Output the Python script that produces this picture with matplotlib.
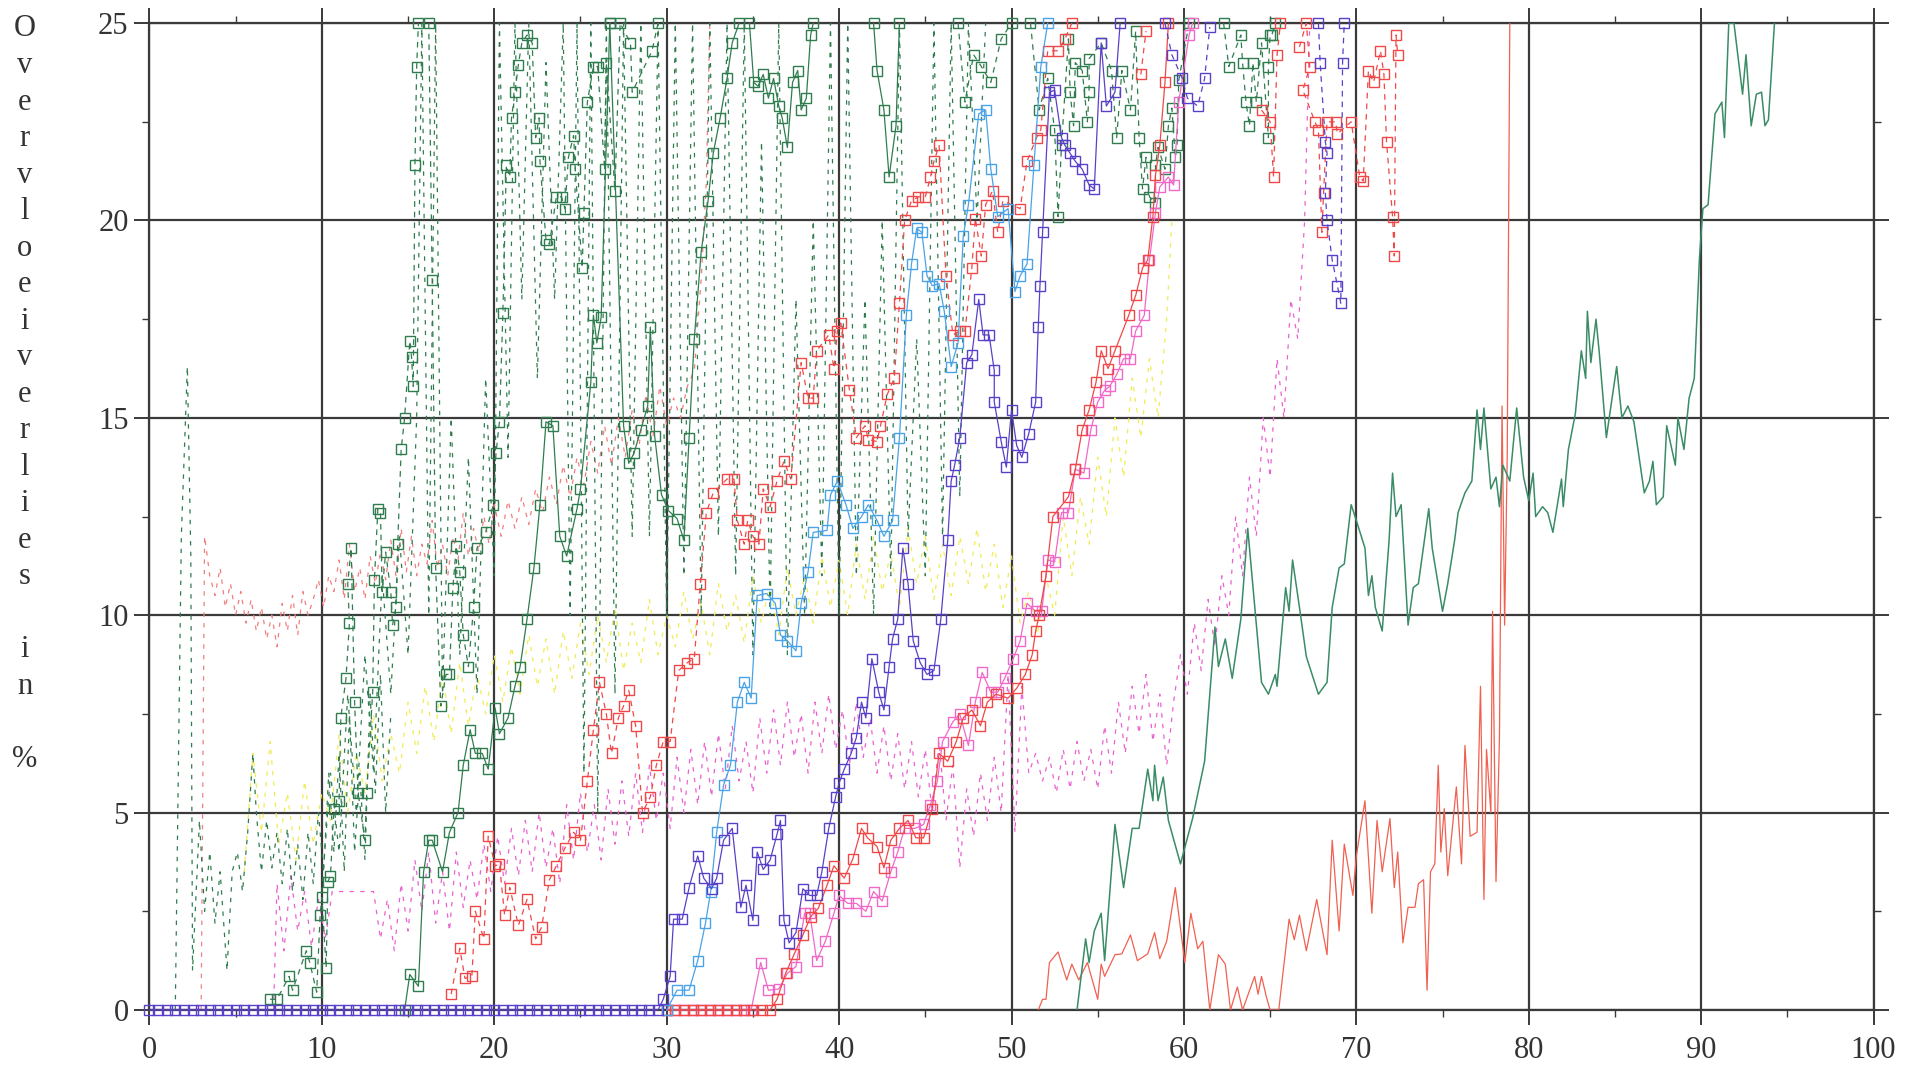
import matplotlib
matplotlib.use('Agg')
import matplotlib.pyplot as plt
import numpy as np
from matplotlib.ticker import MultipleLocator

nan = np.nan

# ---------------------------------------------------------------------------
# Data
# ---------------------------------------------------------------------------

x_ticks = [0, 10, 20, 30, 40, 50, 60, 70, 80, 90, 100]
y_ticks = [0, 5, 10, 15, 20, 25]
ylabel_text = 'Overvloeiverlies in %'

# purple squares, solid
purple_sq = [(0.0, 0), (0.5, 0), (1.0, 0), (1.5, 0), (2.0, 0), (2.5, 0), (3.0, 0), (3.5, 0),
             (4.0, 0), (4.5, 0), (5.0, 0), (5.5, 0), (6.0, 0), (6.5, 0), (7.0, 0), (7.5, 0),
             (8.0, 0), (8.5, 0), (9.0, 0), (9.5, 0), (10.0, 0), (10.5, 0), (11.0, 0), (11.5, 0),
             (12.0, 0), (12.5, 0), (13.0, 0), (13.5, 0), (14.0, 0), (14.5, 0), (15.0, 0), (15.5, 0),
             (16.0, 0), (16.5, 0), (17.0, 0), (17.5, 0), (18.0, 0), (18.5, 0), (19.0, 0), (19.5, 0),
             (20.0, 0), (20.5, 0), (21.0, 0), (21.5, 0), (22.0, 0), (22.5, 0), (23.0, 0), (23.5, 0),
             (24.0, 0), (24.5, 0), (25.0, 0), (25.5, 0), (26.0, 0), (26.5, 0), (27.0, 0), (27.5, 0),
             (28.0, 0), (28.5, 0), (29.0, 0), (29.5, 0),
             (29.8, 0.27), (30.2, 0.85), (30.4, 2.3), (30.9, 2.3), (31.3, 3.1), (31.8, 3.9),
             (32.15, 3.34), (32.6, 3.07), (32.9, 3.34), (33.3, 4.3), (33.8, 4.6), (34.3, 2.6),
             (34.6, 3.16), (35.0, 2.27), (35.25, 4.0), (35.6, 3.56), (36.0, 3.8), (36.4, 4.45),
             (36.6, 4.8), (36.8, 2.27), (37.1, 1.7), (37.5, 1.96), (37.9, 3.07), (38.3, 2.9),
             (38.7, 2.9), (39.0, 3.5), (39.4, 4.6), (39.8, 5.4), (40.0, 5.75), (40.3, 6.1),
             (40.7, 6.5), (41.0, 6.9), (41.3, 7.8), (41.55, 7.4), (41.9, 8.9), (42.3, 8.05),
             (42.6, 7.6), (42.9, 8.7), (43.1, 9.4), (43.4, 9.9), (43.7, 11.7), (44.0, 10.8),
             (44.3, 9.35), (44.7, 8.8), (45.1, 8.5), (45.5, 8.6), (45.9, 9.9), (46.3, 11.9),
             (46.5, 13.4), (46.7, 13.8), (47.0, 14.5), (47.4, 16.4), (47.7, 16.6), (48.1, 18.0),
             (48.35, 17.1), (48.7, 17.1), (49.0, 16.2), (49.0, 15.4), (49.4, 14.4), (49.7, 13.75),
             (50.0, 15.2), (50.3, 14.3), (50.6, 14.0), (51.0, 14.6), (51.4, 15.4), (51.55, 17.3),
             (51.65, 18.35), (51.8, 19.7), (52.2, 23.25), (52.5, 23.3), (52.9, 22.1), (53.1, 21.9),
             (53.4, 21.7), (53.7, 21.5), (54.1, 21.3), (54.5, 20.9), (54.8, 20.8), (55.2, 24.5),
             (55.5, 22.9), (56.0, 23.25), (56.3, 25)]

# purple squares, dashed
purple_sq_dash = [(58.9, 25), (59.3, 24.2), (59.9, 23.6), (60.2, 23.1), (60.8, 22.9), (61.2, 23.6),
                  (61.5, 24.9), (61.6, nan), (67.8, 25), (67.9, 24.0), (68.2, 22.0), (68.3, 21.7),
                  (68.2, 20.7), (68.3, 20.0), (68.6, 19.0), (68.9, 18.35), (69.1, 17.9), (69.2, 24.0),
                  (69.3, 25)]

# light blue squares, solid
blue_sq = [(30.0, 0), (30.6, 0.5), (31.3, 0.5), (31.8, 1.25), (32.25, 2.2), (32.55, 3.0), (32.9, 4.5),
           (33.3, 5.7), (33.7, 6.2), (34.1, 7.8), (34.5, 8.3), (34.9, 7.9), (35.25, 10.5), (35.8, 10.55),
           (36.3, 10.3), (36.6, 9.5), (37.0, 9.35), (37.5, 9.1), (37.8, 10.3), (38.2, 11.1), (38.5, 12.1),
           (39.3, 12.15), (39.5, 13.05), (39.9, 13.4), (40.4, 12.8), (40.8, 12.2), (41.3, 12.5),
           (41.7, 12.8), (42.2, 12.4), (42.6, 12.0), (43.1, 12.4), (43.5, 14.5), (43.9, 17.6),
           (44.2, 18.9), (44.5, 19.8), (44.8, 19.7), (45.1, 18.6), (45.4, 18.35), (45.8, 18.4),
           (46.1, 17.7), (46.5, 16.3), (46.9, 16.9), (47.2, 19.6), (47.5, 20.4), (48.1, 22.7),
           (48.5, 22.8), (48.8, 21.3), (49.2, 20.1), (49.8, 20.3), (50.2, 18.2), (50.5, 18.6),
           (50.9, 18.9), (51.3, 21.4), (51.7, 23.9), (52.1, 25)]

# red squares, dashed
red_sq_dash = [(17.5, 0.4), (18.0, 1.56), (18.3, 0.8), (18.7, 0.85), (18.9, 2.5), (19.4, 1.8),
               (19.65, 4.4), (20.05, 3.65), (20.3, 3.7), (20.6, 2.4), (20.9, 3.1), (21.4, 2.14),
               (21.9, 2.8), (22.4, 1.8), (22.75, 2.1), (23.2, 3.3), (23.6, 3.65), (24.1, 4.1),
               (24.6, 4.5), (25.0, 4.3), (25.4, 5.8), (25.75, 7.1), (26.1, 8.3), (26.5, 7.5),
               (26.8, 6.5), (27.2, 7.4), (27.5, 7.7), (27.8, 8.1), (28.2, 7.2), (28.6, 5.0),
               (29.05, 5.4), (29.4, 6.2), (29.8, 6.8), (30.2, 6.8), (30.7, 8.6), (31.2, 8.8),
               (31.6, 8.9), (31.95, 10.8), (32.3, 12.6), (32.7, 13.1), (33.5, 13.45), (33.9, 13.45),
               (34.1, 12.4), (34.5, 11.8), (34.7, 12.4), (35.0, 12.0), (35.35, 11.8), (35.6, 13.2),
               (36.0, 12.75), (36.4, 13.4), (36.8, 13.9), (37.2, 13.45), (37.8, 16.4), (38.2, 15.5),
               (38.5, 15.5), (38.7, 16.7), (39.4, 17.1), (39.7, 16.25), (39.9, 17.2), (40.1, 17.4),
               (40.6, 15.7), (41.0, 14.5), (41.5, 14.8), (41.7, 14.45), (42.2, 14.4), (42.4, 14.8),
               (42.8, 15.6), (43.2, 16.0), (43.5, 17.9), (43.8, 20.0), (44.2, 20.5), (44.6, 20.6),
               (45.0, 20.6), (45.3, 21.1), (45.5, 21.5), (45.8, 21.9), (46.2, 18.6), (46.6, 17.1),
               (47.0, 17.2), (47.3, 17.2), (47.7, 18.8), (47.9, 20.05), (48.25, 19.1), (48.5, 20.4),
               (48.9, 20.75), (49.2, 19.7), (49.5, 20.5), (50.5, 20.3), (50.9, 21.5), (51.45, 22.1),
               (51.7, 22.3), (52.1, 24.3), (52.7, 24.3), (53.1, 24.6), (53.5, 25)]

red_sq_dash2 = [(57.5, 23.7), (57.8, 24.8), (58.0, nan), (64.5, 22.8), (65.0, 22.5), (65.2, 21.1),
                (65.4, 24.2), (65.6, 25), (65.7, nan), (66.7, 24.4), (67.1, 25), (67.3, 23.9),
                (66.9, 23.3), (67.6, 22.5), (67.8, 22.3), (68.0, 19.7), (68.1, 20.7), (68.3, 22.5),
                (68.8, 22.5), (68.9, 22.2), (69.7, 22.5), (70.2, 21.1), (70.4, 21.0), (70.7, 23.8),
                (71.0, 23.5), (71.4, 24.3), (71.6, 23.7), (71.75, 22.0), (72.1, 20.1), (72.2, 19.1),
                (72.3, 24.7), (72.4, 24.2)]

# red squares, solid
red_sq = [(30.0, 0), (30.5, 0), (31.0, 0), (31.5, 0), (32.0, 0), (32.5, 0), (33.0, 0), (33.5, 0),
          (34.0, 0), (34.5, 0), (35.0, 0), (35.5, 0), (36.0, 0), (36.4, 0.27), (36.9, 0.93),
          (37.4, 1.42), (37.9, 1.9), (38.35, 2.36), (38.8, 2.58), (39.3, 3.16), (39.7, 3.65),
          (40.3, 3.34), (40.8, 3.83), (41.3, 4.6), (41.65, 4.36), (42.2, 4.14), (42.6, 3.6),
          (43.0, 4.3), (43.5, 4.6), (44.0, 4.8), (44.45, 4.36), (44.9, 4.36), (45.4, 5.1),
          (45.8, 6.5), (46.3, 6.3), (46.8, 6.8), (47.2, 7.4), (47.7, 7.6), (48.2, 7.2), (48.6, 7.8),
          (49.1, 8.0), (49.8, 7.9), (50.3, 8.15), (50.8, 8.5), (51.2, 9.0), (51.4, 9.6), (51.6, 10.0),
          (52.0, 11.0), (52.4, 12.5), (53.3, 13.0), (53.7, 13.7), (54.1, 14.7), (54.5, 15.2),
          (54.9, 15.9), (55.2, 16.7), (55.6, 16.25), (56.0, 16.7), (56.8, 17.6), (57.2, 18.1),
          (57.6, 18.8), (57.9, 19.0), (58.2, 20.1), (58.35, 21.15), (58.6, 21.9), (58.9, 23.5),
          (59.1, 25)]

# pink squares, solid
pink_sq = [(30.0, 0), (30.5, 0), (31.0, 0), (31.5, 0), (32.0, 0), (32.5, 0), (33.0, 0), (33.5, 0),
           (34.0, 0), (34.5, 0), (34.9, 0), (35.45, 1.2), (35.9, 0.5), (36.5, 0.53), (37.0, 0.93),
           (37.5, 1.1), (38.0, 2.45), (38.3, 2.45), (38.7, 1.25), (39.2, 1.74), (39.7, 2.45),
           (40.0, 2.9), (40.5, 2.7), (41.0, 2.7), (41.55, 2.5), (42.0, 3.0), (42.5, 2.76), (43.0, 3.5),
           (43.4, 4.0), (43.8, 4.6), (44.4, 4.6), (44.9, 4.7), (45.3, 5.2), (45.7, 5.8), (46.0, 6.8),
           (46.6, 7.3), (47.0, 7.5), (47.5, 6.7), (47.9, 7.8), (48.3, 8.55), (48.8, 8.05), (49.2, 8.05),
           (49.6, 8.4), (50.1, 8.9), (50.5, 9.35), (50.9, 10.3), (51.4, 10.1), (51.75, 10.1),
           (52.1, 11.4), (52.5, 11.35), (52.9, 12.6), (53.3, 12.6), (53.7, 13.7), (54.2, 13.6),
           (54.6, 14.7), (55.0, 15.4), (55.4, 15.7), (55.7, 15.8), (56.1, 16.1), (56.5, 16.5),
           (56.9, 16.5), (57.2, 17.2), (57.7, 17.6), (58.0, 19.0), (58.35, 20.2), (58.6, 20.85),
           (59.1, 21.1), (59.4, 20.9), (59.7, 23.0), (60.3, 24.7), (60.5, 25)]

# dark green squares, dashed
green_sq_dash_a = [(7.0, 0.27), (7.4, 0.27), (8.1, 0.85), (8.3, 0.5), (9.1, 1.5), (9.3, 1.2), (9.7, 0.45),
                   (9.9, 2.4), (10.0, 2.85), (10.25, 1.07), (10.35, 3.25), (10.5, 3.4), (10.7, 5.1),
                   (11.0, 5.3), (11.1, 7.4), (11.4, 8.4), (11.6, 9.8), (11.5, 10.8), (11.7, 11.7),
                   (11.9, 7.8), (12.1, 5.5), (12.5, 4.3), (12.6, 5.5), (12.95, 8.06), (13.05, 10.9),
                   (13.25, 12.7), (13.4, 12.6), (13.5, 10.6), (13.7, 11.6), (14.0, 10.6), (14.1, 9.75),
                   (14.3, 10.2), (14.4, 11.8), (14.6, 14.2), (14.8, 15.0), (15.1, 16.95), (15.2, 16.55),
                   (15.3, 15.8), (15.4, 21.4), (15.5, 23.9), (15.6, 25)]

green_sq_dash_b = [(16.2, 25), (16.4, 18.5), (16.6, 11.2), (16.9, 7.7), (17.2, 8.5), (17.4, 8.5),
                   (17.6, 10.7), (17.8, 11.75), (18.0, 11.1), (18.2, 9.5), (18.5, 8.7), (18.8, 10.2),
                   (19.0, 11.7), (19.5, 12.1), (19.95, 12.8), (20.1, 14.1), (20.3, 14.9), (20.5, 17.65),
                   (20.7, 21.4), (20.9, 21.1), (21.0, 22.6), (21.2, 23.25), (21.4, 23.95), (21.6, 24.5),
                   (21.9, 24.7), (22.2, 24.5), (22.4, 22.1), (22.6, 22.6), (22.65, 21.5), (23.0, 19.5),
                   (23.2, 19.4), (23.6, 20.6), (23.9, 20.6), (24.1, 20.3), (24.3, 21.6), (24.6, 22.15),
                   (24.7, 21.3), (25.1, 18.8), (25.2, 20.2), (25.4, 23.0), (25.75, 23.9), (26.0, 23.9),
                   (26.4, 21.3), (26.5, 24.0), (27.0, 20.75), (27.3, 25), (27.9, 24.5), (28.0, 23.25),
                   (29.15, 24.3), (29.5, 25)]

green_sq_dash_c = [(46.9, 25), (47.3, 23.0), (47.8, 24.2), (48.25, 23.9), (48.8, 23.5), (49.4, 24.6),
                   (50.0, 25), (50.5, nan), (51.1, 25), (51.6, 22.8), (52.1, 23.6), (52.5, 22.3),
                   (52.7, 20.1), (52.9, 21.9), (53.3, 24.6), (53.4, 23.25), (53.6, 22.4), (53.7, 24.0),
                   (54.1, 23.8), (54.4, 22.5), (54.5, 23.25), (54.5, 24.1), (55.2, 24.5), (55.8, 23.8),
                   (56.1, 22.1), (56.4, 23.8), (56.9, 22.8), (57.2, 24.8), (57.4, 22.1), (57.6, 20.8),
                   (57.8, 21.6), (58.0, 20.6), (58.35, 20.45), (58.35, 21.4), (58.5, 21.85), (58.9, 21.3),
                   (59.1, 22.4), (59.3, 22.85), (59.5, 21.6), (59.6, 21.9), (59.7, 23.55), (60.3, 25),
                   (61.0, nan), (62.3, 25), (62.6, 23.9), (63.3, 24.7), (63.4, 24.0), (63.6, 23.0),
                   (63.8, 22.4), (64.0, 24.0), (64.2, 23.0), (64.5, 24.5), (64.9, 22.1), (64.9, 23.9),
                   (65.0, 24.7), (65.1, 24.7), (65.3, 25)]

# dark green squares, solid
green_sq_a = [(14.8, 0), (15.1, 0.9), (15.6, 0.6), (15.9, 3.5), (16.2, 4.3), (16.4, 4.3), (17.0, 3.5),
              (17.4, 4.5), (17.9, 5.0), (18.2, 6.2), (18.6, 7.1), (18.9, 6.5), (19.3, 6.5), (19.65, 6.1),
              (20.05, 7.65), (20.3, 7.0), (20.8, 7.4), (21.2, 8.2), (21.5, 8.7), (21.9, 9.9), (22.3, 11.2),
              (22.65, 12.8), (23.0, 14.9), (23.4, 14.8), (23.8, 12.0), (24.2, 11.5), (24.8, 12.7),
              (25.0, 13.2), (25.6, 15.9), (25.75, 17.6), (25.95, 16.9), (26.2, 17.55), (26.7, 25)]
green_sq_b = [(26.7, 25), (27.5, 14.8), (27.8, 13.85), (28.1, 14.1), (28.5, 14.7), (28.9, 15.3),
              (29.05, 17.3), (29.3, 14.55), (29.7, 13.05), (30.1, 12.65), (30.6, 12.45), (31.0, 11.9),
              (31.3, 14.5), (31.6, 17.0), (32.0, 19.2), (32.4, 20.5), (32.7, 21.7), (33.1, 22.6),
              (33.5, 23.6), (33.8, 24.5), (34.2, 25)]
green_sq_c = [(34.8, 25), (35.05, 23.5), (35.3, 23.4), (35.6, 23.7), (35.9, 23.1), (36.2, 23.6),
              (36.5, 22.9), (36.7, 22.6), (37.0, 21.85), (37.3, 23.5), (37.6, 23.8), (37.8, 22.8),
              (38.1, 23.1), (38.35, 24.7), (38.5, 25)]
green_sq_d = [(42.0, 25), (42.2, 23.8), (42.6, 22.8), (42.9, 21.1), (43.3, 22.4), (43.5, 25)]

# dark green dashed, no markers
green_dash_a = [(1.5, 0), (1.85, 12.0), (2.2, 16.3), (2.4, 11.5), (2.5, 1.0), (2.9, 4.8), (3.2, 2.5),
                (3.5, 4.0), (3.8, 2.2), (4.1, 3.5), (4.5, 1.0), (4.8, 3.5), (5.1, 4.0), (5.4, 3.0),
                (5.7, 4.5), (6.0, 6.5), (6.2, 5.0), (6.5, 3.5), (6.8, 4.8), (7.1, 3.6), (7.4, 4.5),
                (7.7, 3.2), (8.0, 4.6), (8.3, 3.0), (8.6, 4.2), (8.9, 2.8), (9.2, 4.5), (9.5, 3.2),
                (9.8, 5.0), (10.1, 3.5), (10.4, 6.0), (10.7, 4.0), (11.0, 6.5), (11.3, 3.5), (11.6, 7.5),
                (11.9, 4.0), (12.2, 6.0), (12.5, 3.8), (12.8, 8.0), (13.1, 5.5), (13.4, 8.5), (13.7, 5.0),
                (14.0, 7.5)]
green_dash_b = [(10.0, 3.0), (10.5, 6.0), (11.0, 4.0), (11.5, 8.0), (12.0, 5.0), (12.5, 9.0), (13.0, 6.0),
                (13.5, 11.0), (14.0, 8.0), (14.5, 12.0), (15.0, 9.0), (15.5, 15.0), (15.8, 25), (16.2, 10.0),
                (16.6, 25), (17.0, 8.0), (17.5, 15.0), (18.0, 9.0), (18.5, 14.0), (19.0, 8.0), (19.5, 16.0),
                (20.0, 11.0), (20.3, 25), (20.8, 14.0), (21.2, 25), (21.6, 18.0), (22.0, 25), (22.5, 16.0),
                (23.0, 24.0), (23.5, 18.0), (24.0, 25), (24.4, 10.0), (24.8, 25), (25.2, 6.0), (25.6, 25),
                (26.0, 5.0), (26.5, 25), (27.0, 8.0), (27.5, 25), (28.0, 12.0), (28.5, 25), (29.0, 12.0),
                (29.5, 25), (30.0, 10.0), (30.5, 25), (31.0, 11.0), (31.5, 25), (32.0, 10.0), (32.5, 25),
                (33.0, 12.0), (33.5, 25), (34.0, 11.0), (34.5, 25), (35.0, 9.0), (35.5, 22.0), (36.0, 10.0),
                (36.5, 25), (37.0, 9.0), (37.5, 18.0), (38.0, 10.0), (38.5, 20.0), (39.0, 11.0), (39.5, 25),
                (40.0, 10.0), (40.5, 25), (41.0, 11.0), (41.5, 18.0), (42.0, 10.0), (42.5, 20.0),
                (43.0, 11.0), (43.5, 25), (44.0, 12.0), (44.5, 17.0), (45.0, 11.0), (45.5, 25), (46.0, 12.0),
                (46.5, 25), (47.0, 13.0), (47.5, 25), (48.0, 20.0), (48.5, 25)]

# light red dashed, no markers
red_dash = [(3.0, 0), (3.1, 6.0), (3.2, 12.0), (3.5, 11.0), (3.8, 10.5), (4.1, 11.2), (4.4, 10.2),
            (4.7, 10.8), (5.0, 10.0), (5.3, 10.6), (5.6, 9.8), (5.9, 10.4), (6.2, 9.6), (6.5, 10.2),
            (6.8, 9.4), (7.1, 10.0), (7.4, 9.2), (7.7, 10.3), (8.0, 9.6), (8.3, 10.5), (8.6, 9.5),
            (8.9, 10.6), (9.2, 10.0), (9.5, 10.4), (9.8, 10.9), (10.1, 10.2), (10.4, 11.0), (10.7, 10.6),
            (11.0, 11.4), (11.3, 10.4), (11.6, 11.8), (11.9, 10.6), (12.2, 11.2), (12.5, 10.4),
            (12.8, 11.5), (13.1, 10.8), (13.4, 11.6), (13.7, 10.9), (14.0, 11.9), (14.3, 11.0),
            (14.6, 12.2), (14.9, 11.1), (15.2, 12.0), (15.5, 11.0), (15.8, 11.8), (16.1, 11.3),
            (16.4, 12.4), (16.7, 11.2), (17.0, 11.8), (17.3, 11.0), (17.6, 12.0), (17.9, 11.4),
            (18.2, 12.6), (18.5, 11.5), (18.8, 12.2), (19.1, 11.6), (19.4, 12.5), (19.7, 11.8),
            (20.0, 12.8), (20.4, 12.0), (20.8, 12.9), (21.2, 12.2), (21.6, 13.0), (22.0, 12.3),
            (22.4, 13.2), (22.8, 12.6), (23.2, 13.5), (23.6, 12.8), (24.0, 13.8), (24.4, 13.0),
            (24.8, 14.0), (25.2, 13.3), (25.6, 14.4), (26.0, 13.6), (26.4, 14.8), (26.8, 13.8),
            (27.2, 15.0), (27.6, 14.0), (28.0, 15.2), (28.4, 14.3), (28.8, 15.6), (29.2, 14.5),
            (29.6, 15.8), (30.0, 14.8), (30.4, 15.5), (30.8, 15.0), (31.2, 15.8), (31.6, 16.2),
            (32.0, 18.5), (32.3, 21.0), (32.5, 25)]

# yellow dashed, no markers
yellow_dash = [(5.5, 3.5), (6.0, 6.5), (6.5, 4.5), (7.0, 6.8), (7.5, 4.2), (8.0, 5.5), (8.5, 3.8),
               (9.0, 5.8), (9.5, 4.2), (10.0, 5.5), (10.5, 4.8), (11.0, 7.0), (11.5, 5.0), (12.0, 6.5),
               (12.5, 5.5), (13.0, 7.5), (13.5, 5.8), (14.0, 7.0), (14.5, 6.0), (15.0, 7.8), (15.5, 6.5),
               (16.0, 8.2), (16.5, 6.8), (17.0, 8.5), (17.5, 7.0), (18.0, 8.8), (18.5, 7.2), (19.0, 8.5),
               (19.5, 7.5), (20.0, 9.0), (20.5, 7.8), (21.0, 9.2), (21.5, 8.0), (22.0, 9.5), (22.5, 8.2),
               (23.0, 9.4), (23.5, 8.0), (24.0, 9.6), (24.5, 8.4), (25.0, 9.8), (25.5, 8.5), (26.0, 10.0),
               (26.5, 8.8), (27.0, 10.2), (27.5, 8.6), (28.0, 9.8), (28.5, 8.8), (29.0, 10.4), (29.5, 9.0),
               (30.0, 10.0), (30.5, 9.2), (31.0, 10.6), (31.5, 9.4), (32.0, 10.3), (32.5, 9.0), (33.0, 10.8),
               (33.5, 9.6), (34.0, 10.5), (34.5, 9.3), (35.0, 11.0), (35.5, 9.8), (36.0, 10.8), (36.5, 9.5),
               (37.0, 11.2), (37.5, 10.0), (38.0, 11.0), (38.5, 9.8), (39.0, 11.5), (39.5, 10.2),
               (40.0, 11.4), (40.5, 10.0), (41.0, 11.8), (41.5, 10.4), (42.0, 12.0), (42.5, 10.6),
               (43.0, 11.6), (43.5, 10.2), (44.0, 12.2), (44.5, 10.8), (45.0, 12.0), (45.5, 10.4),
               (46.0, 11.8), (46.5, 10.5), (47.0, 12.0), (47.5, 10.8), (48.0, 12.2), (48.5, 10.6),
               (49.0, 11.8), (49.5, 10.2), (50.0, 11.5), (50.5, 9.8), (51.0, 10.6), (51.5, 9.5),
               (52.0, 11.0), (52.5, 10.0), (53.0, 12.5), (53.5, 11.0), (54.0, 13.0), (54.5, 11.8),
               (55.0, 14.0), (55.5, 12.5), (56.0, 15.0), (56.5, 13.5), (57.0, 16.0), (57.5, 14.5),
               (58.0, 16.5), (58.5, 15.0), (59.0, 17.5), (59.3, 20.0)]

# magenta dashed, no markers
magenta_dash = [(7.2, 0), (7.4, 3.2), (7.8, 1.5), (8.2, 3.4), (8.6, 2.0), (9.0, 3.0), (9.4, 1.6),
                (9.8, 2.8), (10.2, 1.8), (10.6, 3.0), (13.0, 3.0), (13.4, 1.8), (13.8, 2.8), (14.2, 1.5),
                (14.6, 3.2), (15.0, 2.0), (15.4, 3.8), (15.8, 2.5), (16.2, 4.0), (16.6, 2.2), (17.0, 3.5),
                (17.4, 2.0), (17.8, 4.0), (18.2, 2.6), (18.6, 3.8), (19.0, 2.8), (19.4, 4.2), (19.8, 3.0),
                (20.2, 4.4), (20.6, 3.2), (21.0, 4.6), (21.4, 3.4), (21.8, 4.8), (22.2, 3.5), (22.6, 5.0),
                (23.0, 3.6), (23.4, 4.6), (23.8, 3.2), (24.2, 5.2), (24.6, 3.8), (25.0, 5.5), (25.4, 4.0),
                (25.8, 5.2), (26.2, 3.8), (26.6, 5.6), (27.0, 4.2), (27.4, 5.8), (27.8, 4.4), (28.2, 6.0),
                (28.6, 4.5), (29.0, 6.2), (29.4, 4.8), (29.8, 6.0), (30.2, 4.6), (30.6, 6.4), (31.0, 5.0),
                (31.4, 6.6), (31.8, 5.2), (32.2, 6.8), (32.6, 5.4), (33.0, 7.0), (33.4, 5.6), (33.8, 7.2),
                (34.2, 5.8), (34.6, 6.8), (35.0, 5.5), (35.4, 7.4), (35.8, 6.0), (36.2, 7.6), (36.6, 6.2),
                (37.0, 7.8), (37.4, 6.4), (37.8, 7.5), (38.2, 6.0), (38.6, 7.8), (39.0, 6.5), (39.4, 8.0),
                (39.8, 6.6), (40.2, 7.6), (40.6, 6.2), (41.0, 7.8), (41.4, 6.4), (41.8, 7.4), (42.2, 6.0),
                (42.6, 7.2), (43.0, 5.8), (43.4, 7.0), (43.8, 5.6), (44.2, 6.8), (44.6, 5.4), (45.0, 6.6),
                (45.4, 5.0), (45.8, 6.8), (46.2, 4.8), (46.6, 6.2), (47.0, 3.6), (47.4, 5.6), (47.8, 4.4),
                (48.2, 6.0), (48.6, 4.8), (49.0, 6.4), (49.4, 5.0), (49.8, 8.5), (50.2, 4.5), (50.6, 8.2),
                (51.0, 6.0), (51.4, 6.5), (51.8, 5.8), (52.2, 6.4), (52.6, 5.5), (53.0, 6.6), (53.4, 5.6),
                (53.8, 6.8), (54.2, 5.8), (54.6, 6.6), (55.0, 5.6), (55.4, 7.2), (55.8, 6.0), (56.2, 7.8),
                (56.6, 6.5), (57.0, 8.2), (57.4, 7.0), (57.8, 8.5), (58.2, 6.8), (58.6, 8.0), (59.0, 6.2),
                (59.4, 7.8), (59.8, 9.0), (60.2, 8.0), (60.6, 9.8), (61.0, 8.6), (61.4, 10.4), (61.8, 9.2),
                (62.2, 11.0), (62.6, 10.0), (63.0, 12.5), (63.4, 11.0), (63.8, 13.5), (64.2, 12.0),
                (64.6, 15.0), (65.0, 13.5), (65.4, 16.5), (65.8, 15.0), (66.2, 18.0), (66.6, 17.0),
                (67.0, 20.0), (67.3, 25)]

# dark green solid, no markers
green_line = [(53.8, 0), (54.3, 1.8), (54.5, 1.2), (54.8, 2.0), (55.2, 2.45), (55.4, 1.25), (56.0, 4.7),
              (56.5, 3.1), (57.0, 4.6), (57.4, 4.6), (57.9, 6.1), (58.2, 5.3), (58.3, 6.2), (58.5, 5.3),
              (58.8, 5.9), (59.1, 4.8), (59.8, 3.7), (60.5, 4.85), (61.2, 6.3), (61.8, 9.7), (62.0, 8.7),
              (62.4, 9.4), (62.8, 8.4), (63.3, 9.9), (63.7, 12.2), (64.5, 8.3), (64.9, 8.0), (65.3, 8.5),
              (65.4, 8.2), (65.9, 10.7), (66.1, 10.1), (66.3, 11.4), (66.7, 10.2), (67.1, 8.95),
              (67.8, 8.0), (68.3, 8.3), (68.6, 10.2), (69.0, 11.2), (69.3, 11.3), (69.7, 12.8),
              (70.0, 12.4), (70.5, 11.7), (70.7, 10.5), (70.9, 11.0), (71.1, 10.2), (71.5, 9.6),
              (71.9, 11.9), (72.1, 13.6), (72.3, 12.5), (72.6, 12.8), (73.0, 9.75), (73.3, 10.7),
              (73.6, 10.8), (74.2, 12.7), (74.4, 11.7), (75.0, 10.1), (75.3, 10.8), (75.7, 11.9),
              (75.9, 12.6), (76.3, 13.1), (76.7, 13.4), (77.0, 15.2), (77.2, 14.2), (77.4, 15.25),
              (77.8, 13.2), (78.1, 13.5), (78.3, 12.75), (78.5, 13.8), (78.9, 13.4), (79.3, 15.25),
              (79.7, 13.5), (80.0, 12.9), (80.25, 13.6), (80.4, 12.5), (80.8, 12.75), (81.1, 12.6),
              (81.4, 12.1), (81.9, 13.45), (82.0, 12.75), (82.3, 14.2), (82.7, 15.1), (83.05, 16.7),
              (83.3, 16.0), (83.4, 17.7), (83.6, 16.4), (83.9, 17.5), (84.1, 16.6), (84.5, 14.5),
              (85.1, 16.3), (85.4, 15.0), (85.75, 15.3), (86.1, 14.9), (86.7, 13.1), (87.0, 13.4),
              (87.2, 13.9), (87.4, 12.8), (87.8, 13.0), (88.0, 14.8), (88.5, 13.8), (88.65, 15.0),
              (89.0, 14.2), (89.3, 15.5), (89.6, 16.0), (89.9, 19.05), (90.1, 20.3), (90.4, 20.4),
              (90.8, 22.7), (91.2, 23.0), (91.35, 22.1), (91.6, 25), (91.9, 25), (92.4, 23.2),
              (92.6, 24.2), (92.9, 22.4), (93.2, 23.2), (93.5, 23.25), (93.7, 22.4), (93.9, 22.55),
              (94.25, 25)]

# red solid, no markers
red_line = [(51.55, 0), (51.8, 0.27), (52.0, 0.27), (52.2, 1.2), (52.7, 1.47), (53.2, 0.76), (53.5, 1.16),
            (53.9, 0.76), (54.4, 1.2), (55.0, 0.27), (55.2, 1.16), (55.4, 0.85), (56.0, 1.4), (56.4, 1.42),
            (56.9, 1.9), (57.3, 1.25), (57.9, 1.42), (58.3, 1.96), (58.6, 1.3), (59.0, 1.74), (59.5, 3.1),
            (60.05, 1.2), (60.4, 2.45), (60.8, 1.55), (61.1, 1.74), (61.5, 0), (62.0, 1.4), (62.4, 1.16),
            (62.7, 0), (63.1, 0.58), (63.4, 0), (64.1, 0.85), (64.3, 0.4), (64.5, 0.85), (64.8, 0.3),
            (65.0, 0), (65.5, 0), (66.1, 2.3), (66.4, 1.78), (66.7, 2.4), (67.1, 1.5), (67.7, 2.8),
            (68.0, 2.1), (68.3, 1.4), (68.6, 4.3), (69.0, 2.0), (69.3, 4.2), (69.8, 2.9), (70.0, 3.9),
            (70.5, 5.3), (70.9, 2.45), (71.2, 4.8), (71.5, 3.5), (71.7, 4.1), (71.95, 4.85), (72.2, 3.1),
            (72.4, 4.0), (72.7, 1.7), (73.0, 2.6), (73.4, 2.6), (73.6, 3.2), (73.9, 3.3), (74.1, 0.5),
            (74.3, 3.5), (74.55, 3.7), (74.75, 6.2), (74.9, 4.0), (75.1, 5.1), (75.3, 3.4), (75.8, 5.65),
            (76.1, 3.7), (76.3, 6.7), (76.6, 4.4), (77.0, 4.5), (77.2, 8.2), (77.4, 2.8), (77.55, 6.6),
            (77.8, 5.0), (77.9, 10.1), (78.1, 3.25), (78.3, 6.9), (78.45, 15.3), (78.6, 9.75),
            (78.75, 14.0), (78.9, 25)]

# ---------------------------------------------------------------------------
# Plot
# ---------------------------------------------------------------------------

GRID = '#3a3a3a'
DASH = (0, (3.5, 5))       # short dashes, wide gaps as in the scan
DASH_SQ = (0, (4.5, 4))    # dashed lines that carry square markers

fig = plt.figure(figsize=(19.06, 10.71), dpi=100)
ax = fig.add_axes([0.0784, 0.057, 0.9046, 0.9214])


def draw(pts, color, ls='-', marker=None, z=2, lw=0.9):
    xs = [p[0] for p in pts]
    ys = [p[1] for p in pts]
    if marker:
        ax.plot(xs, ys, color=color, ls=ls, lw=lw, marker=marker, ms=7, mfc='none',
                mec=color, mew=1.0, zorder=z, clip_on=False)
    else:
        ax.plot(xs, ys, color=color, ls=ls, lw=lw, zorder=z)


# faint dashed series first
draw(yellow_dash, '#f0ec58', DASH, z=2)
draw(magenta_dash, '#ea62d0', DASH, z=2)
draw(red_dash, '#f07f7f', DASH, z=2)
draw(green_dash_a, '#2f7d4f', DASH, z=3)
draw(green_dash_b, '#2f7d4f', DASH, z=3)

# solid lines without markers
draw(red_line, '#f06050', '-', z=3)
draw(green_line, '#3a8c66', '-', z=3, lw=1.1)

# square-marker series
draw(green_sq_dash_a, '#2f7d4f', DASH_SQ, 's', z=4)
draw(green_sq_dash_b, '#2f7d4f', DASH_SQ, 's', z=4)
draw(green_sq_dash_c, '#2f7d4f', DASH_SQ, 's', z=4)
draw(green_sq_a, '#2f7d4f', '-', 's', z=4)
draw(green_sq_b, '#2f7d4f', '-', 's', z=4)
draw(green_sq_c, '#2f7d4f', '-', 's', z=4)
draw(green_sq_d, '#2f7d4f', '-', 's', z=4)
draw(red_sq_dash, '#f04848', DASH_SQ, 's', z=5)
draw(red_sq_dash2, '#f04848', DASH_SQ, 's', z=5)
draw(pink_sq, '#f068c8', '-', 's', z=5)
draw(red_sq, '#f04848', '-', 's', z=5)
draw(blue_sq, '#4aa3e6', '-', 's', z=5)
draw(purple_sq_dash, '#5a40c8', DASH_SQ, 's', z=6)
draw(purple_sq, '#5a40c8', '-', 's', z=6)

ax.set_xlim(0, 100)
ax.set_ylim(0, 25)
ax.set_xticks(x_ticks)
ax.set_yticks(y_ticks)
ax.xaxis.set_minor_locator(MultipleLocator(5))
ax.yaxis.set_minor_locator(MultipleLocator(2.5))
ax.grid(True, which='major', color=GRID, lw=1.6, zorder=1)
ax.set_axisbelow(True)
for s in ax.spines.values():
    s.set_color(GRID)
    s.set_linewidth(1.6)

ax.tick_params(which='major', direction='out', length=11, width=1.4, color=GRID,
               top=True, right=True, labelsize=22, labelcolor='#333333')
ax.tick_params(which='minor', direction='out', length=5, width=1.0, color=GRID,
               top=True, right=True)
ax.tick_params(axis='x', pad=8)
ax.tick_params(axis='y', pad=4)
for lab in ax.get_xticklabels() + ax.get_yticklabels():
    lab.set_fontfamily('Liberation Serif')

# stacked vertical y label
pos = 0
for ch in ylabel_text:
    if ch != ' ':
        fig.text(0.0129, 1 - (30 + 30.05 * pos) / 881, ch, ha='center', va='baseline',
                 fontsize=22, family='Liberation Serif', color='#333333')
    pos += 1

fig.savefig('out.png', dpi=100, facecolor='white')
